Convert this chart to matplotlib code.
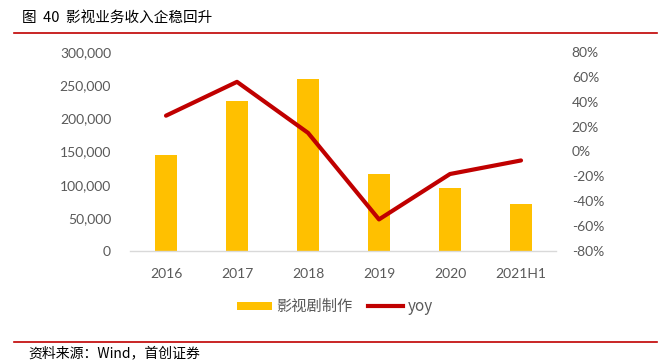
import matplotlib
matplotlib.use("Agg")
import matplotlib.pyplot as plt
from matplotlib.patches import Patch
from matplotlib.lines import Line2D
from matplotlib.ticker import FuncFormatter, FixedLocator

categories = ["2016", "2017", "2018", "2019", "2020", "2021H1"]
revenue = [144000, 225500, 259500, 116500, 95500, 71500]
yoy = [28.8, 56.0, 15.0, -54.6, -18.1, -7.2]
left_ticks = [0, 50000, 100000, 150000, 200000, 250000, 300000]
right_ticks = [-80, -60, -40, -20, 0, 20, 40, 60, 80]

CJK = ["Noto Sans CJK SC", "DejaVu Sans"]
NUM = ["Lato", "DejaVu Sans"]
GRAY = "#595959"

fig = plt.figure(figsize=(6.72, 3.6), dpi=100)
ax = fig.add_axes([130.5 / 672, 1 - 251 / 360, 426 / 672, 199 / 360])
ax2 = ax.twinx()

x = list(range(len(categories)))
ax.bar(x, revenue, width=0.31, color="#FFC000", zorder=2)
ax2.plot(x, yoy, color="#C00000", lw=3.0, solid_capstyle="round", zorder=3)

ax.set_xlim(-0.5, len(categories) - 0.5)
ax.set_ylim(0, 300000)
ax2.set_ylim(-80, 80)
ax.yaxis.set_major_locator(FixedLocator(left_ticks))
ax2.yaxis.set_major_locator(FixedLocator(right_ticks))
ax.yaxis.set_major_formatter(FuncFormatter(lambda v, p: f"{int(v):,}"))
ax2.yaxis.set_major_formatter(FuncFormatter(lambda v, p: f"{int(v)}%"))
ax.set_xticks(x)
ax.set_xticklabels(categories)

for a in (ax, ax2):
    for s in a.spines.values():
        s.set_visible(False)
    a.tick_params(length=0, colors=GRAY, labelsize=10)
    for lab in a.get_xticklabels() + a.get_yticklabels():
        lab.set_fontfamily(NUM)
ax2.spines["bottom"].set_visible(True)
ax2.spines["bottom"].set_color("#D9D9D9")
ax2.spines["bottom"].set_linewidth(1.0)
ax.tick_params(axis="y", pad=14)
ax.tick_params(axis="x", pad=12)
ax2.tick_params(axis="y", pad=11)

handles = [Patch(facecolor="#FFC000", edgecolor="none"),
           Line2D([0], [0], color="#C00000", lw=3.0)]
leg = fig.legend(handles, ["影视剧制作", "yoy"], loc="center",
                 bbox_to_anchor=(0.498, 1 - 306.7 / 360), ncol=2, frameon=False,
                 prop={"family": CJK, "size": 11}, handlelength=2.3,
                 handleheight=0.45, handletextpad=0.3, columnspacing=1.0,
                 labelcolor=GRAY)

fig.text(22 / 672, 1 - 18 / 360, "图  40  影视业务收入企稳回升", family=CJK,
         fontsize=10.5, color="black", va="center", ha="left")
fig.add_artist(Line2D([14 / 672, 657 / 672], [1 - 33 / 360, 1 - 33 / 360],
                      color="#C00000", lw=1.2))
fig.add_artist(Line2D([14 / 672, 657 / 672], [1 - 341.5 / 360, 1 - 341.5 / 360],
                      color="#C00000", lw=1.2))
fig.text(28 / 672, 1 - 353 / 360, "资料来源：Wind，首创证券", family=CJK,
         fontsize=10, style="italic", color="black", va="center", ha="left")

fig.savefig("out.png", dpi=100)
